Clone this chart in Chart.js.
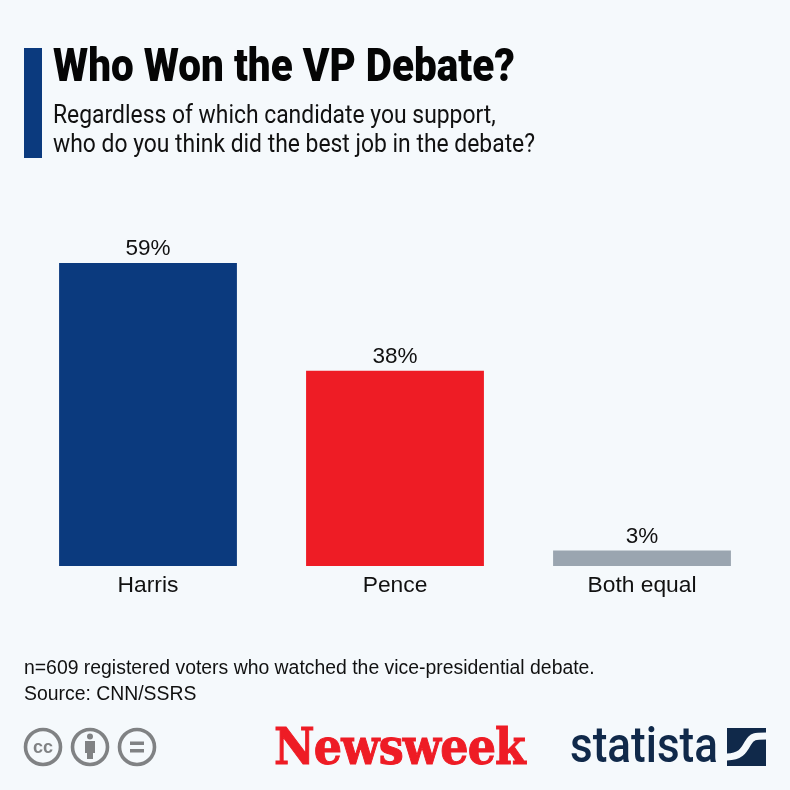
<!DOCTYPE html>
<html>
<head>
<meta charset="utf-8">
<title>Who Won the VP Debate?</title>
<script src="https://cdn.jsdelivr.net/npm/chart.js@4"></script>
<style>
html,body{margin:0;padding:0;background:#f5f9fc;}
#wrap{position:relative;width:790px;height:790px;overflow:hidden;background:#f5f9fc;}
#wrap canvas{position:absolute;left:0;top:0;}
.txt{position:absolute;white-space:nowrap;transform-origin:left top;}
#bar{position:absolute;left:24px;top:48px;width:18px;height:110px;background:#0b3a7e;}
#title{left:53px;top:38px;font:900 46px Roboto,sans-serif;color:#050505;transform:scaleX(.879);}
#sub1,#sub2{left:53px;font:400 25px Roboto,sans-serif;color:#111;transform:scaleX(.915);}
#sub1{top:100px;}
#sub2{top:129px;}
#note,#source{left:24px;font:400 19.4px "Liberation Sans",sans-serif;color:#111;}
#note{top:656px;}
#source{top:682px;}
#newsweek{left:274px;top:717px;font:700 50px "DejaVu Serif",serif;color:#ee1c25;-webkit-text-stroke:1px #ee1c25;letter-spacing:-1px;transform:scaleX(.89);}
#statista{left:570px;top:716px;font:500 50px Roboto,sans-serif;color:#10294a;transform:scaleX(.88);}
svg{position:absolute;}
</style>
</head>
<body>
<div id="wrap">
<canvas id="chart" width="790" height="790"></canvas>
<div id="bar"></div>
<div class="txt" id="title">Who Won the VP Debate?</div>
<div class="txt" id="sub1">Regardless of which candidate you support,</div>
<div class="txt" id="sub2">who do you think did the best job in the debate?</div>
<div class="txt" id="note">n=609 registered voters who watched the vice-presidential debate.</div>
<div class="txt" id="source">Source: CNN/SSRS</div>
<svg style="left:22px;top:726px" width="140" height="42" viewBox="0 0 140 42">
  <g fill="none" stroke="#808284" stroke-width="3.6">
    <circle cx="21" cy="21" r="17.5"/><circle cx="68" cy="21" r="17.5"/><circle cx="115" cy="21" r="17.5"/>
  </g>
  <text x="21" y="27" text-anchor="middle" font-family="Liberation Sans" font-weight="700" font-size="18" fill="#808284">cc</text>
  <g fill="#808284">
    <circle cx="68" cy="10.5" r="3"/><rect x="63" y="15" width="10" height="12"/><rect x="65" y="26" width="6" height="7"/>
    <rect x="108" y="15.5" width="14" height="3.5"/><rect x="108" y="23" width="14" height="3.5"/>
  </g>
</svg>
<div class="txt" id="newsweek">Newsweek</div>
<div class="txt" id="statista">statista</div>
<svg style="left:727px;top:728px" width="39" height="38" viewBox="0 0 39 38">
  <rect width="39" height="38" fill="#10294a"/>
  <path d="M0 29 C14 29 17 22 21 15 C25 8 28 8 39 8" fill="none" stroke="#f5f9fc" stroke-width="7"/>
</svg>
</div>
<script>
const categories = ["Harris", "Pence", "Both equal"];
const shares = [59, 38, 3];
const barColors = ["#0b3a7e", "#ee1c25", "#9aa5b0"];

// percent labels above the bars
const valueLabels = {
  id: "valueLabels",
  afterDatasetsDraw(chart) {
    const ctx = chart.ctx;
    const meta = chart.getDatasetMeta(0);
    ctx.save();
    ctx.font = '22.5px "Liberation Sans", sans-serif';
    ctx.fillStyle = "#111";
    ctx.textAlign = "center";
    ctx.textBaseline = "alphabetic";
    meta.data.forEach((bar, i) => {
      ctx.fillText(shares[i] + "%", bar.x, bar.y - 8);
    });
    ctx.restore();
  }
};

new Chart(document.getElementById("chart"), {
  type: "bar",
  plugins: [valueLabels],
  data: {
    labels: categories,
    datasets: [{
      data: shares,
      backgroundColor: barColors,
      borderWidth: 0,
      categoryPercentage: 1,
      barPercentage: 0.72
    }]
  },
  options: {
    responsive: false,
    animation: false,
    layout: { padding: { left: 24.5, right: 24.5, top: 206.5, bottom: 174 } },
    plugins: { legend: { display: false }, tooltip: { enabled: false } },
    scales: {
      x: {
        grid: { display: false, drawTicks: false },
        border: { display: false },
        ticks: {
          color: "#111",
          padding: 6,
          font: { family: "Liberation Sans", size: 22.8 }
        },
        afterFit(scale) { scale.height = 50; }
      },
      y: { display: false, min: 0, max: 70 }
    }
  }
});
</script>
</body>
</html>
